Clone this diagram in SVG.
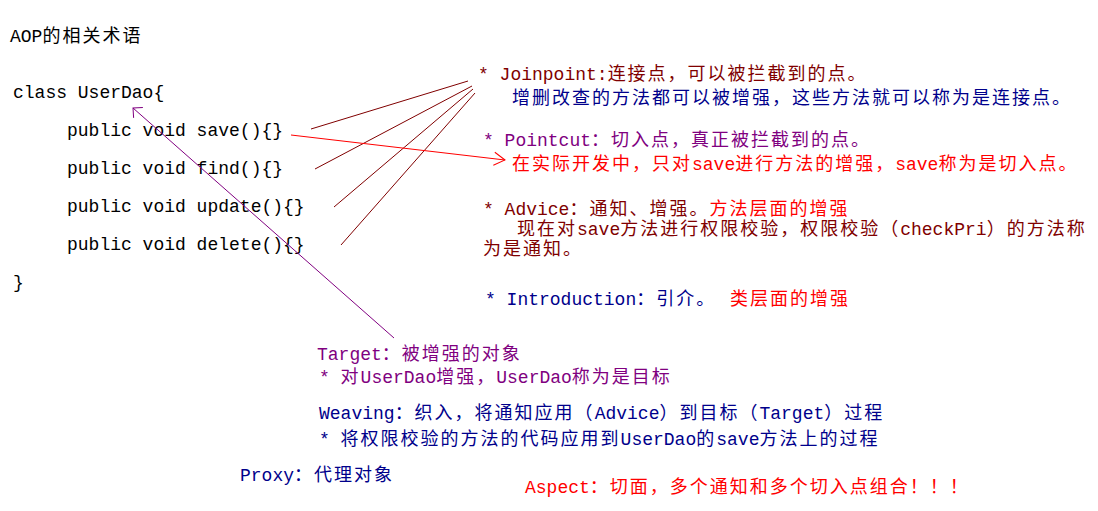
<svg xmlns="http://www.w3.org/2000/svg" width="1098" height="511" viewBox="0 0 1098 511">
<style>
text{font-family:"Liberation Mono","Noto Sans CJK SC",monospace;font-size:18px;letter-spacing:2px;white-space:pre}
.l{letter-spacing:0}
.k{fill:#000000}
.dr{fill:#800000}
.nv{fill:#00008B}
.pu{fill:#800080}
.rd{fill:#FF0000}
.cd{stroke:#800000;stroke-width:1;fill:none}
.cr{stroke:#FF0000;stroke-width:1;fill:none}
.cp{stroke:#800080;stroke-width:1;fill:none}
</style>
<defs>
<marker id="ar" markerUnits="userSpaceOnUse" orient="auto" overflow="visible" markerWidth="1" markerHeight="1"><path d="M-11,-6.5L0,0L-11,6.5" class="cr"/></marker>
<marker id="ap" markerUnits="userSpaceOnUse" orient="auto" overflow="visible" markerWidth="1" markerHeight="1"><path d="M-7,-7L0,0L-7,7" class="cp"/></marker>
</defs>
<rect width="1098" height="511" fill="#FFFFFF"/>
<g id="title"><text x="10" y="42" class="k"><tspan class="l">AOP</tspan>的相关术语</text></g>
<g id="code">
<text x="13" y="98" class="k l">class UserDao{</text>
<text x="67" y="136" class="k l">public void save(){}</text>
<text x="67" y="174" class="k l">public void find(){}</text>
<text x="67" y="212" class="k l">public void update(){}</text>
<text x="67" y="250" class="k l">public void delete(){}</text>
<text x="13" y="288" class="k l">}</text>
</g>
<g id="joinpoint">
<text x="478" y="80" class="dr"><tspan class="l">* Joinpoint:</tspan>连接点，可以被拦截到的点。</text>
<text x="512" y="104" class="nv">增删改查的方法都可以被增强，这些方法就可以称为是连接点。</text>
</g>
<g id="pointcut">
<text x="483" y="146" class="pu"><tspan class="l">* Pointcut</tspan>：切入点，真正被拦截到的点。</text>
<text x="512" y="170" class="rd">在实际开发中，只对<tspan class="l">save</tspan>进行方法的增强，<tspan class="l">save</tspan>称为是切入点。</text>
</g>
<g id="advice">
<text x="483" y="215" class="dr"><tspan class="l">* Advice</tspan>：通知、增强。<tspan class="rd">方法层面的增强</tspan></text>
<text x="517" y="235" class="dr">现在对<tspan class="l">save</tspan>方法进行权限校验，权限校验（<tspan class="l">checkPri</tspan>）的方法称</text>
<text x="483" y="255" class="dr">为是通知。</text>
</g>
<g id="introduction">
<text x="485" y="305" class="nv"><tspan class="l">* Introduction</tspan>：引介。<tspan x="730" class="rd">类层面的增强</tspan></text>
</g>
<g id="target">
<text x="317" y="360" class="pu"><tspan class="l">Target</tspan>：被增强的对象</text>
<text x="319" y="383" class="pu"><tspan class="l">* </tspan>对<tspan class="l">UserDao</tspan>增强，<tspan class="l">UserDao</tspan>称为是目标</text>
</g>
<g id="weaving">
<text x="319" y="419" class="nv"><tspan class="l">Weaving</tspan>：织入，将通知应用（<tspan class="l">Advice</tspan>）到目标（<tspan class="l">Target</tspan>）过程</text>
<text x="319" y="445" class="nv"><tspan class="l">* </tspan>将权限校验的方法的代码应用到<tspan class="l">UserDao</tspan>的<tspan class="l">save</tspan>方法上的过程</text>
</g>
<g id="proxy">
<text x="240" y="481" class="nv"><tspan class="l">Proxy</tspan>：代理对象</text>
</g>
<g id="aspect">
<text x="525" y="493" class="rd"><tspan class="l">Aspect</tspan>：切面，多个通知和多个切入点组合！！！</text>
</g>
<g id="connectors">
<line x1="311" y1="129" x2="468" y2="81" class="cd"/>
<line x1="315" y1="169" x2="472" y2="86" class="cd"/>
<line x1="334" y1="207" x2="473" y2="89" class="cd"/>
<line x1="341" y1="245" x2="475" y2="93" class="cd"/>
<line x1="291" y1="135" x2="505" y2="160" class="cr" marker-end="url(#ar)"/>
<line x1="394" y1="338" x2="133" y2="108" class="cp" marker-end="url(#ap)"/>
</g>
</svg>
